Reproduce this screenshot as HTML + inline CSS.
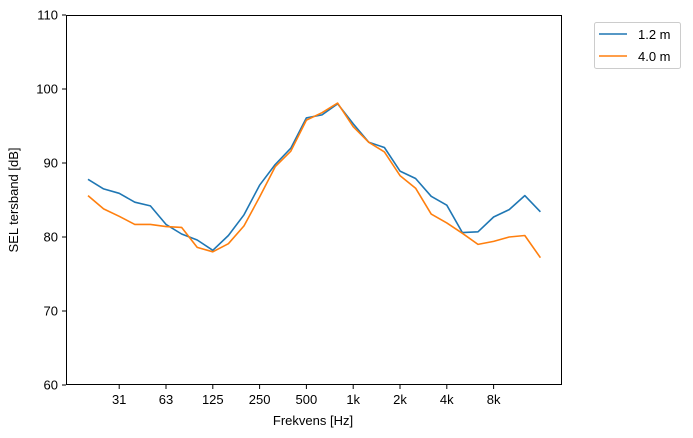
<!DOCTYPE html>
<html><head><meta charset="utf-8"><style>
html,body{margin:0;padding:0;background:#fff;}
svg{display:block;font-family:"Liberation Sans","DejaVu Sans",sans-serif;}
</style></head><body>
<svg id="s" width="693" height="438" xmlns="http://www.w3.org/2000/svg">
<rect x="0" y="0" width="693" height="438" fill="#fff"/>
<g id="ticks" font-size="13" fill="#000"></g>
<polyline id="b" fill="none" stroke="#1f77b4" stroke-width="1.6" stroke-linejoin="round"/>
<polyline id="o" fill="none" stroke="#ff7f0e" stroke-width="1.6" stroke-linejoin="round"/>
<rect x="66.5" y="15.5" width="495" height="369" fill="none" stroke="#000" stroke-width="1"/>
<text x="313" y="425" font-size="13" text-anchor="middle">Frekvens [Hz]</text>
<text transform="translate(18,200) rotate(-90)" font-size="13" text-anchor="middle">SEL tersband [dB]</text>
<rect x="594.5" y="22.5" width="86" height="46" rx="2" fill="#fff" stroke="#ccc"/>
<line x1="599" y1="34" x2="627" y2="34" stroke="#1f77b4" stroke-width="1.6"/>
<text x="638" y="39" font-size="13">1.2 m</text>
<line x1="599" y1="56" x2="627" y2="56" stroke="#ff7f0e" stroke-width="1.6"/>
<text x="638" y="61" font-size="13">4.0 m</text>
</svg>
<script>
var B=[87.8,86.5,85.9,84.7,84.2,81.7,80.4,79.6,78.2,80.2,83,87,89.8,92,96.1,96.5,98,95.3,92.8,92.1,88.9,87.9,85.5,84.3,80.6,80.7,82.7,83.7,85.6,83.4];
var O=[85.6,83.8,82.8,81.7,81.7,81.4,81.3,78.6,78.0,79.1,81.5,85.4,89.5,91.6,95.8,96.8,98.1,94.9,92.8,91.5,88.3,86.6,83.1,81.9,80.5,79.0,79.4,80.0,80.2,77.2];
function X(i){return 88+i*15.6;}
function Y(v){return 385-(v-60)*7.4;}
function pts(a){return a.map(function(v,i){return X(i).toFixed(1)+","+Y(v).toFixed(1)}).join(" ");}
document.getElementById("b").setAttribute("points",pts(B));
document.getElementById("o").setAttribute("points",pts(O));
var g=document.getElementById("ticks"),h="";
var xl=["31","63","125","250","500","1k","2k","4k","8k"];
for(var k=0;k<9;k++){var x=X(2+3*k);h+='<line x1="'+x+'" y1="385" x2="'+x+'" y2="389" stroke="#000"/><text x="'+x+'" y="404" text-anchor="middle">'+xl[k]+'</text>';}
for(var v=60;v<=110;v+=10){var y=Y(v);h+='<line x1="62" y1="'+y+'" x2="66" y2="'+y+'" stroke="#000"/><text x="58" y="'+(y+4.5)+'" text-anchor="end">'+v+'</text>';}
g.innerHTML=h;
</script>
</body></html>
